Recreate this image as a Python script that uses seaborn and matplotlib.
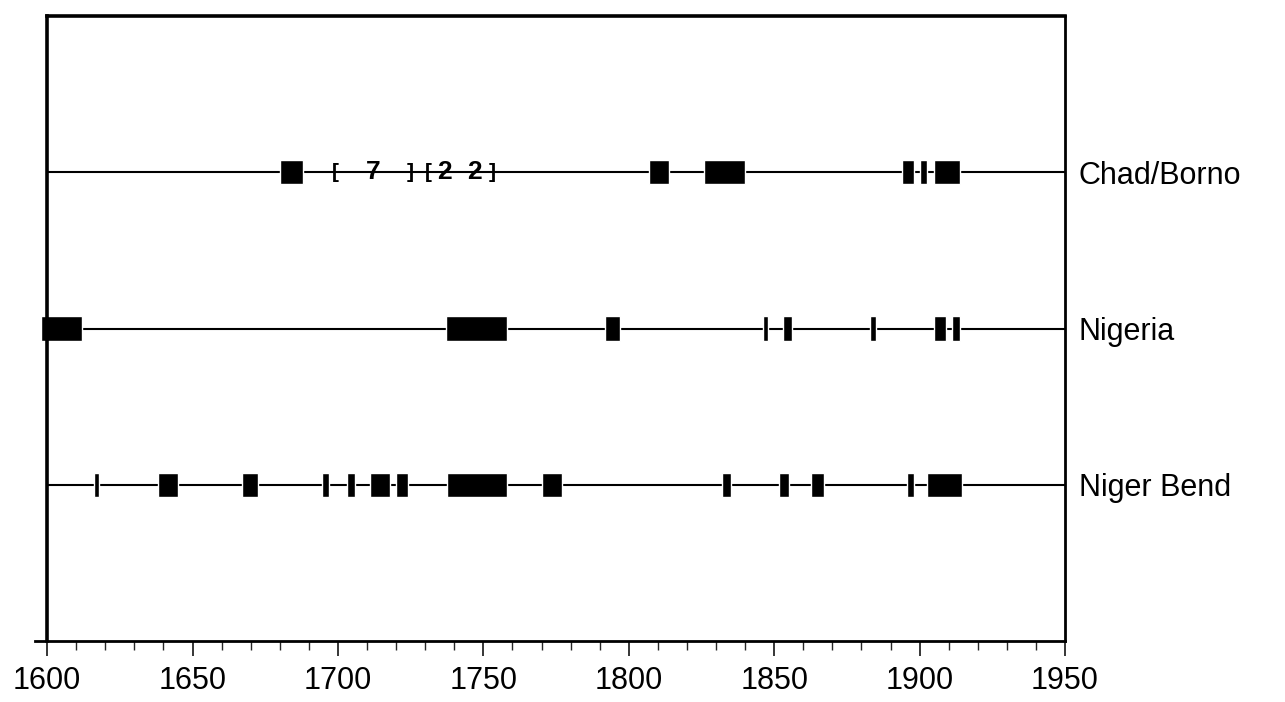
import matplotlib
matplotlib.use("Agg")
import matplotlib.pyplot as plt
from matplotlib.ticker import MultipleLocator
import seaborn as sns

# rows (bottom to top)
regions = ["Niger Bend", "Nigeria", "Chad/Borno"]

# dated events per region: (start year, end year)
chad_start = [1680, 1807, 1826, 1894, 1900, 1905]
chad_end = [1688, 1814, 1840, 1898, 1902.5, 1914]

nigeria_start = [1598, 1737, 1792, 1846, 1853, 1883, 1905, 1911]
nigeria_end = [1612, 1758, 1797, 1848, 1856, 1885, 1909, 1914]

bend_start = [1616, 1638, 1667, 1694.5, 1703, 1711, 1720, 1737.5,
              1770, 1832, 1851.5, 1862.5, 1895.5, 1902.5]
bend_end = [1618, 1645, 1672.5, 1697, 1706, 1718, 1724, 1758,
            1777, 1835, 1855, 1867, 1898, 1914.5]

# bracketed annotations on the Chad/Borno row
note_years = [1699, 1712, 1725, 1731, 1736.5, 1747, 1753]
note_texts = ["[", "7", "]", "[", "2", "2", "]"]

sns.set_theme(style="white")
plt.rcParams["font.family"] = ["Liberation Sans", "DejaVu Sans"]

fig = plt.figure(figsize=(12.85, 7.02), dpi=100)
ax = fig.add_axes([0.0276, 0.087, 0.8012, 0.890])

events = {
    "Niger Bend": (bend_start, bend_end),
    "Nigeria": (nigeria_start, nigeria_end),
    "Chad/Borno": (chad_start, chad_end),
}
bar_h = 0.155
for i, name in enumerate(regions):
    y = i + 1
    ax.plot([1600, 1950], [y, y], color="black", lw=1.5, zorder=1)
    starts, ends = events[name]
    ax.barh([y] * len(starts), [e - s for s, e in zip(starts, ends)],
            left=starts, height=bar_h, color="black", zorder=2, clip_on=False)

for yr, t in zip(note_years, note_texts):
    ax.text(yr, 3, t, ha="center", va="center",
            fontsize=15 if t in "[]" else 19,
            fontweight="bold", color="black", zorder=3)

ax.set_xlim(1596, 1950)
ax.set_ylim(0, 4)
ax.xaxis.set_major_locator(MultipleLocator(50))
ax.xaxis.set_minor_locator(MultipleLocator(10))
ax.tick_params(axis="x", which="major", direction="out", length=11, width=1.1,
               bottom=True, labelsize=22, pad=7, colors="black")
ax.tick_params(axis="x", which="minor", direction="out", length=6.5, width=1.0,
               bottom=True)

ax.set_yticks([1, 2, 3])
ax.set_yticklabels(regions)
ax.yaxis.tick_right()
ax.tick_params(axis="y", length=0, labelsize=22, pad=10, colors="black")

for side in ["left", "right", "top", "bottom"]:
    ax.spines[side].set_visible(True)
    ax.spines[side].set_color("black")
ax.spines["left"].set_position(("data", 1600))
ax.spines["left"].set_linewidth(2.6)
ax.spines["top"].set_linewidth(2.6)
ax.spines["top"].set_bounds(1600, 1950)
ax.spines["right"].set_linewidth(2.0)
ax.spines["bottom"].set_linewidth(2.0)

fig.savefig("out.png", dpi=100)
